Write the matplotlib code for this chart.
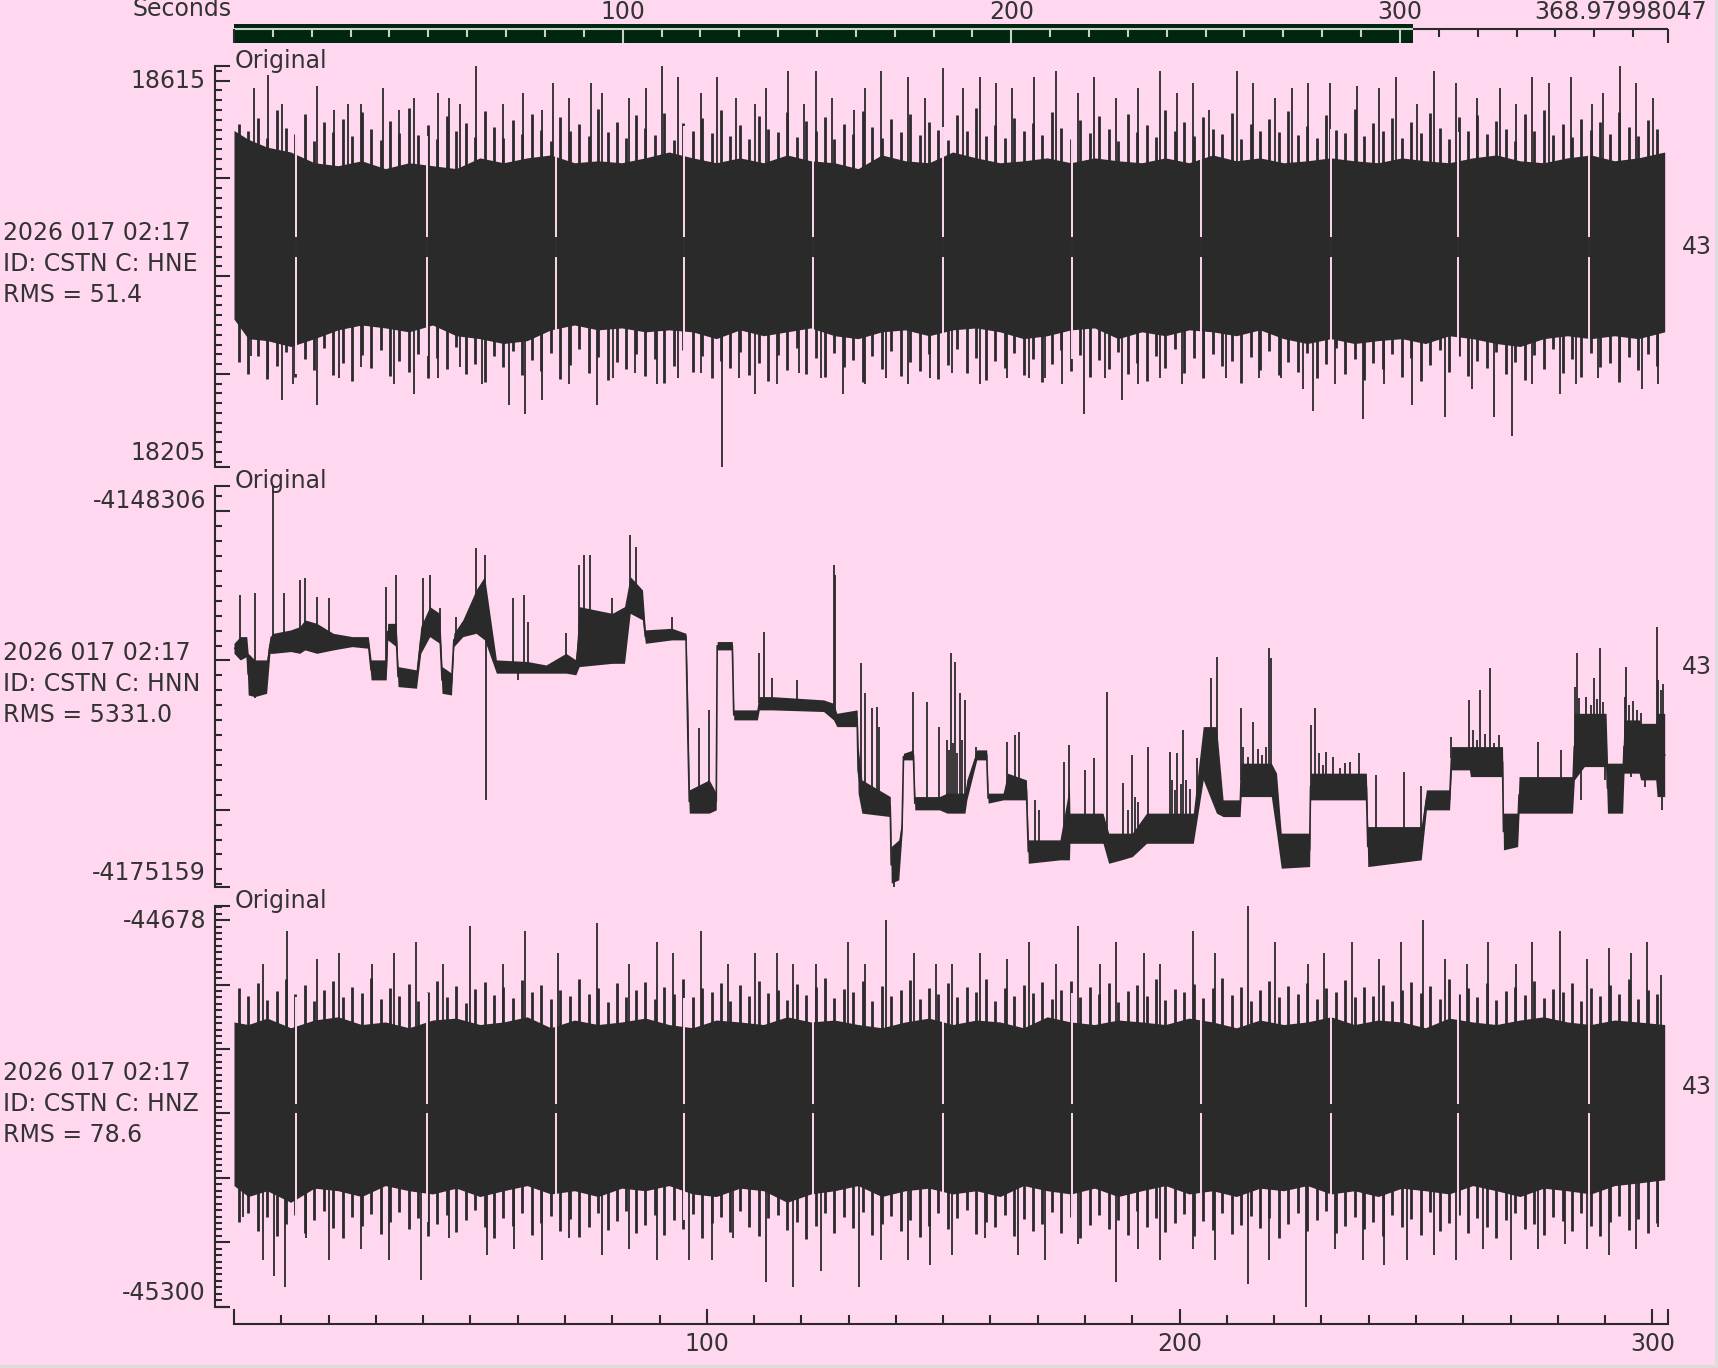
import numpy as np
import matplotlib.pyplot as plt
from matplotlib.patches import Rectangle

W, H = 1718, 1368
BG = "#ffd8f0"
INK = "#2a2a2a"
TXT = "#333333"
GREEN = "#002610"
LIGHT = "#c8d2c8"

plt.rcParams["font.family"] = "DejaVu Sans"
plt.rcParams["font.size"] = 17

# ---------------- data ----------------
window = 303.3          # seconds shown
total = 368.97998047    # full record length
start_label = "2026 017 02:17"
stations = ["ID: CSTN C: HNE", "ID: CSTN C: HNN", "ID: CSTN C: HNZ"]
rms = ["RMS = 51.4", "RMS = 5331.0", "RMS = 78.6"]
right_label = "43"
y_min = [18205, -4175159, -45300]
y_max = [18615, -4148306, -44678]
y_major_step = [100, 10000, 100]
y_minor_step = [10, 1000, 10]

# dropouts seen as thin pink columns in HNE / HNZ
gap_t = [13.1, 40.8, 68.2, 95.2, 122.4, 149.9, 177.3, 204.6, 232.0, 258.8, 286.5]

# envelope knots (seconds) shared by HNE / HNZ
band_t = [0, 3, 7, 12, 17, 22, 27, 32, 37, 42, 47, 52, 57, 62, 67, 72, 77, 82, 87, 92,
          97, 102, 107, 112, 117, 122, 127, 132, 137, 142, 147, 152, 157, 162, 167, 172,
          177, 182, 187, 192, 197, 202, 207, 212, 217, 222, 227, 232, 237, 242, 247, 252,
          257, 262, 267, 272, 277, 282, 287, 292, 297, 302.6]
# dense fringe samples along both edges, one every 2 s from 1 s
fringe_t = [1 + 2 * k for k in range(151)]

# HNE (counts): solid core of the band
hne_top = [18549, 18540, 18532, 18527, 18516, 18513, 18518, 18510, 18516, 18513,
           18510, 18521, 18516, 18521, 18524, 18516, 18518, 18516, 18521, 18527,
           18521, 18516, 18521, 18516, 18524, 18518, 18516, 18510, 18524, 18518,
           18516, 18527, 18521, 18516, 18518, 18521, 18516, 18521, 18518, 18516,
           18521, 18516, 18524, 18518, 18521, 18516, 18518, 18521, 18518, 18516,
           18521, 18518, 18516, 18521, 18524, 18518, 18516, 18521, 18524, 18518,
           18521, 18527]
hne_bot = [18356, 18336, 18334, 18328, 18336, 18345, 18350, 18347, 18343, 18350,
           18339, 18336, 18331, 18334, 18345, 18350, 18345, 18347, 18343, 18345,
           18343, 18336, 18345, 18339, 18343, 18347, 18339, 18336, 18343, 18345,
           18339, 18345, 18347, 18343, 18336, 18339, 18345, 18347, 18336, 18343,
           18339, 18345, 18343, 18339, 18345, 18336, 18331, 18336, 18331, 18334,
           18336, 18331, 18339, 18336, 18331, 18328, 18336, 18339, 18336, 18339,
           18336, 18343]
hne_fringe_top = [
    18556, 18548, 18562, 18541, 18570, 18552, 18545, 18566, 18538, 18558,
    18547, 18561, 18543, 18568, 18551, 18539, 18559, 18546, 18572, 18544,
    18555, 18540, 18564, 18549, 18557, 18542, 18569, 18553, 18541, 18560,
    18545, 18566, 18550, 18538, 18563, 18548, 18556, 18543, 18571, 18547,
    18558, 18541, 18565, 18552, 18544, 18567, 18539, 18557, 18549, 18562,
    18546, 18570, 18543, 18555, 18540, 18564, 18551, 18547, 18568, 18542,
    18559, 18548, 18563, 18540, 18556, 18545, 18569, 18553, 18541, 18561,
    18547, 18566, 18544, 18558, 18550, 18539, 18565, 18548, 18572, 18543,
    18555, 18541, 18562, 18549, 18557, 18544, 18568, 18552, 18540, 18560,
    18546, 18564, 18551, 18538, 18566, 18547, 18555, 18542, 18570, 18549,
    18558, 18543, 18563, 18551, 18545, 18567, 18540, 18556, 18548, 18561,
    18547, 18569, 18544, 18554, 18541, 18565, 18550, 18546, 18571, 18543,
    18557, 18549, 18562, 18541, 18558, 18546, 18567, 18552, 18540, 18563,
    18548, 18565, 18545, 18559, 18551, 18538, 18566, 18549, 18570, 18544,
    18556, 18542, 18561, 18550, 18558, 18545, 18568, 18553, 18543, 18560,
    18551]
hne_fringe_bot = [
    18312, 18300, 18318, 18295, 18308, 18322, 18297, 18315, 18304, 18326,
    18299, 18311, 18293, 18319, 18306, 18324, 18298, 18313, 18302, 18320,
    18296, 18316, 18305, 18327, 18300, 18310, 18292, 18318, 18307, 18323,
    18299, 18314, 18303, 18321, 18295, 18309, 18325, 18301, 18317, 18294,
    18312, 18305, 18320, 18298, 18315, 18291, 18308, 18324, 18302, 18318,
    18296, 18313, 18306, 18322, 18299, 18311, 18293, 18319, 18304, 18326,
    18300, 18316, 18297, 18321, 18307, 18314, 18292, 18318, 18305, 18323,
    18298, 18312, 18303, 18320, 18295, 18309, 18325, 18301, 18316, 18294,
    18313, 18306, 18321, 18299, 18315, 18292, 18310, 18324, 18303, 18319,
    18297, 18314, 18305, 18322, 18300, 18311, 18293, 18318, 18306, 18325,
    18301, 18316, 18296, 18320, 18308, 18313, 18291, 18317, 18304, 18323,
    18299, 18312, 18302, 18321, 18296, 18310, 18326, 18300, 18315, 18294,
    18311, 18305, 18320, 18297, 18316, 18293, 18309, 18324, 18302, 18318,
    18298, 18313, 18306, 18322, 18300, 18312, 18294, 18319, 18305, 18325,
    18301, 18315, 18297, 18321, 18307, 18311, 18292, 18317, 18304, 18320,
    18308]
hne_gap_seg = (18420, 18440)
hne_up = [(4.2, 18593), (7.2, 18606), (10.2, 18576), (17.6, 18595), (21.1, 18570),
          (24.1, 18576), (26.9, 18576), (31.5, 18593), (35.0, 18570), (38.0, 18582),
          (43.1, 18587), (45.4, 18582), (47.7, 18576), (51.2, 18615), (57.0, 18576),
          (61.2, 18587), (65.1, 18570), (67.4, 18598), (70.9, 18582), (75.5, 18598),
          (77.8, 18587), (83.6, 18582), (87.1, 18593), (90.6, 18615), (94.0, 18604),
          (98.7, 18587), (102.1, 18604), (106.1, 18582), (110.2, 18576), (112.6, 18593),
          (117.2, 18610), (120.6, 18576), (123.0, 18610), (126.4, 18582), (131.1, 18570),
          (133.4, 18593), (136.9, 18610), (142.6, 18604), (146.1, 18582), (150.0, 18613),
          (154.2, 18593), (157.7, 18604), (161.2, 18598), (164.6, 18593), (169.3, 18604),
          (173.9, 18610), (178.5, 18587), (182.0, 18604), (186.6, 18582), (191.3, 18593),
          (195.9, 18610), (199.4, 18587), (202.8, 18598), (206.3, 18570), (212.1, 18610),
          (215.6, 18598), (220.2, 18582), (223.7, 18593), (227.1, 18598), (231.8, 18598),
          (237.6, 18595), (242.2, 18593), (245.7, 18604), (250.3, 18576), (253.8, 18610),
          (258.4, 18598), (263.0, 18582), (267.7, 18593), (271.1, 18576), (274.6, 18604),
          (278.1, 18598), (282.7, 18604), (287.3, 18576), (289.6, 18587), (293.1, 18615),
          (296.6, 18598), (300.1, 18582)]
hne_dn = [(3.7, 18318), (7.2, 18301), (10.2, 18273), (12.5, 18290), (17.6, 18268),
          (22.3, 18296), (26.9, 18307), (33.8, 18290), (38.0, 18279), (43.1, 18296),
          (47.7, 18307), (52.4, 18290), (58.1, 18268), (61.6, 18259), (65.1, 18273),
          (70.9, 18290), (76.7, 18268), (80.1, 18296), (84.8, 18301), (89.4, 18290),
          (94.0, 18296), (98.7, 18301), (103.3, 18205), (106.8, 18296), (110.2, 18279),
          (114.9, 18290), (119.5, 18301), (124.1, 18296), (128.8, 18279), (133.4, 18290),
          (138.0, 18296), (142.6, 18290), (147.3, 18296), (151.9, 18301), (157.7, 18290),
          (163.5, 18296), (168.1, 18296), (171.6, 18296), (175.1, 18290), (179.7, 18259),
          (184.3, 18296), (187.8, 18273), (191.3, 18290), (195.9, 18296), (200.5, 18290),
          (205.2, 18296), (209.8, 18296), (216.7, 18296), (221.4, 18296), (226.0, 18284),
          (228.3, 18262), (232.9, 18290), (238.7, 18254), (243.3, 18290), (249.1, 18268),
          (256.1, 18256), (261.9, 18284), (266.5, 18256), (270.4, 18236), (274.6, 18290),
          (280.4, 18279), (283.9, 18290), (288.5, 18296), (293.1, 18301), (297.8, 18284),
          (301.2, 18290)]

# HNN (counts): time knots with upper / lower envelope
hnn_t = [0.0, 1.3, 2.7, 3.0, 4.4, 6.9, 7.6, 8.3, 12.0, 13.9, 15.0, 17.5, 21.0, 25.0, 28.4,
         29.0, 32.2, 32.5, 34.3, 34.7, 38.6, 39.5, 41.4, 43.5, 44.0, 46.0, 46.5, 48.4,
         51.2, 53.0, 55.5, 62.1, 66.0, 70.2, 72.3, 73.0, 80.0, 82.6, 83.8, 86.4, 87.0,
         92.6, 95.6, 96.0, 96.3, 100.5, 102.0, 102.2, 105.4, 105.7, 110.7, 111.1, 113.8,
         124.7, 126.8, 127.5, 131.8, 132.0, 132.8, 138.8, 139.0, 140.6, 141.3, 141.6,
         143.7, 144.0, 149.2, 150.8, 154.6, 155.0, 157.1, 159.2, 159.5, 162.7, 163.6,
         167.6, 168.0, 174.7, 176.7, 176.8, 183.8, 185.0, 187.7, 190.0, 193.0, 196.5,
         197.6, 202.9, 205.0, 207.8, 209.2, 212.8, 213.0, 219.4, 220.5, 221.5, 227.5,
         227.7, 239.5, 239.8, 251.1, 252.2, 257.1, 257.5, 261.3, 261.5, 268.3, 268.5,
         271.5, 271.8, 283.1, 283.5, 285.6, 290.2, 290.5, 293.7, 294.0, 297.2, 297.5,
         300.7, 301.0, 302.6]
hnn_hi = [-4158850, -4158400, -4158400, -4159520, -4159960, -4159960, -4158400, -4158180,
          -4157950, -4157730, -4157280, -4157510, -4158180, -4158400, -4158400, -4159960,
          -4159960, -4157510, -4157510, -4160410, -4160630, -4157730, -4156390, -4156840,
          -4160410, -4160850, -4158180, -4157280, -4155270, -4154380, -4159960, -4160070,
          -4160300, -4159520, -4159960, -4156390, -4156840, -4156390, -4154380, -4155270,
          -4157950, -4157840, -4158180, -4162870, -4168670, -4168000, -4168890, -4158730,
          -4158730, -4163310, -4163310, -4162420, -4162420, -4162640, -4162870, -4163540,
          -4163310, -4165770, -4168000, -4169120, -4172470, -4172020, -4170680, -4166220,
          -4165990, -4169120, -4169120, -4168890, -4168890, -4168000, -4165990, -4165990,
          -4168890, -4168890, -4167550, -4168000, -4172020, -4172020, -4168440, -4170230,
          -4170230, -4171570, -4171570, -4171570, -4170230, -4170230, -4170230, -4170230,
          -4164430, -4164430, -4169340, -4169340, -4166880, -4166880, -4167550, -4171570,
          -4171570, -4167550, -4167550, -4171130, -4171130, -4168670, -4168670, -4165770,
          -4165770, -4165770, -4165770, -4170230, -4170230, -4167780, -4167780, -4163540,
          -4163540, -4163540, -4166880, -4166880, -4163980, -4163980, -4164210, -4164210,
          -4163540, -4163540]
hnn_lo = [-4159520, -4159960, -4159740, -4162310, -4162420, -4162200, -4159520, -4159520,
          -4159400, -4159520, -4159290, -4159520, -4159290, -4159070, -4159180, -4161300,
          -4161300, -4158620, -4159070, -4161750, -4161860, -4159520, -4158400, -4158850,
          -4162200, -4162310, -4159070, -4158400, -4158180, -4158620, -4160850, -4160850,
          -4160850, -4160850, -4160960, -4160410, -4160190, -4160190, -4156840, -4157280,
          -4158850, -4158620, -4158620, -4167550, -4170230, -4170230, -4170010, -4159290,
          -4159290, -4163980, -4163980, -4163310, -4163310, -4163420, -4163980, -4164430,
          -4164430, -4168890, -4170230, -4170460, -4174920, -4174700, -4171570, -4166660,
          -4166660, -4170010, -4170010, -4170230, -4170230, -4169340, -4166660, -4166660,
          -4169560, -4169340, -4169340, -4169340, -4173590, -4173360, -4173360, -4172250,
          -4172250, -4173590, -4173360, -4173140, -4172250, -4172250, -4172250, -4172250,
          -4168000, -4170230, -4170460, -4170460, -4169120, -4169120, -4171570, -4173920,
          -4173810, -4169340, -4169340, -4173810, -4173360, -4170010, -4170010, -4167330,
          -4167330, -4167780, -4167780, -4172690, -4172470, -4170230, -4170230, -4168000,
          -4167110, -4167110, -4170230, -4170230, -4167550, -4167550, -4168000, -4168000,
          -4169120, -4169120]
hnn_up = [(1.3, -4155610), (4.4, -4155500), (8.2, -4148306), (10.5, -4155500), (13.9, -4154600),
          (15.0, -4154490), (17.5, -4155720), (20.0, -4155830), (32.2, -4155050), (34.3, -4154270),
          (40.0, -4154490), (41.4, -4154270), (43.5, -4156500), (47.0, -4157060), (51.2, -4152480),
          (53.0, -4152930), (59.0, -4155830), (61.4, -4155610), (62.1, -4157400), (70.2, -4158180),
          (73.0, -4153600), (74.1, -4152930), (75.2, -4152930), (80.0, -4155830), (83.8, -4151590),
          (85.0, -4152370), (92.6, -4157060), (98.4, -4164540), (100.5, -4163310), (111.1, -4159520),
          (112.1, -4158060), (113.8, -4161190), (119.0, -4161300), (126.8, -4153600), (127.2, -4154270),
          (132.7, -4160190), (133.5, -4162200), (135.0, -4163200), (136.0, -4163090), (136.5, -4164430),
          (143.7, -4162080), (146.5, -4162750), (149.2, -4164430), (151.7, -4159520), (152.5, -4160070),
          (153.5, -4162200), (154.6, -4162640), (157.0, -4165770), (163.6, -4165430), (165.2, -4164990),
          (166.1, -4164760), (169.4, -4169340), (170.2, -4170010), (175.5, -4166770), (176.7, -4165660),
          (180.0, -4167330), (182.0, -4166550), (184.7, -4162080), (188.0, -4168220), (190.0, -4166330),
          (193.3, -4165770), (198.0, -4166100), (199.5, -4166220), (200.7, -4164650), (203.7, -4166550),
          (206.6, -4161190), (208.0, -4159740), (213.0, -4163200), (215.6, -4164090), (218.9, -4159180),
          (219.4, -4159850), (227.7, -4164320), (228.7, -4163200), (231.0, -4166100), (235.0, -4166880),
          (241.6, -4167660), (247.4, -4167440), (251.1, -4168440), (257.5, -4165100), (261.2, -4162640),
          (263.6, -4161970), (265.7, -4160520), (275.7, -4165430), (280.7, -4165990), (284.0, -4159520),
          (287.7, -4161190), (289.0, -4159180), (294.4, -4160410), (297.5, -4163540), (300.9, -4157730),
          (150.9, -4165320), (151.3, -4166000), (152.0, -4165500), (153.0, -4166200), (154.0, -4165320),
          (189.0, -4170000), (190.6, -4169120), (191.2, -4169500), (198.3, -4168000), (199.0, -4168700),
          (200.2, -4168300), (201.3, -4168000), (202.3, -4168600), (213.5, -4165770), (214.5, -4166500),
          (216.5, -4165900), (217.5, -4166300), (218.3, -4165800), (229.5, -4166220), (230.3, -4167000),
          (232.5, -4166500), (234.0, -4167200), (236.0, -4166800), (238.0, -4166220), (262.0, -4164650),
          (263.0, -4165300), (264.5, -4164900), (266.5, -4165500), (267.5, -4165000), (283.6, -4161750),
          (284.5, -4162500), (286.0, -4162420), (287.0, -4163000), (288.3, -4162600), (289.5, -4162800),
          (294.2, -4162420), (295.0, -4163000), (296.0, -4162700), (296.8, -4163300), (301.2, -4161300),
          (301.8, -4162000), (302.3, -4161600)]
hnn_dn = [(4.4, -4162530), (53.3, -4169340), (60.0, -4161300), (139.5, -4175159),
          (284.8, -4169340), (290.0, -4168000), (295.5, -4167780), (298.5, -4168500), (302.0, -4170010)]

# HNZ (counts): solid core of the band
hnz_top = [-44858, -44862, -44852, -44867, -44855, -44850, -44862, -44858, -44867, -44855,
           -44852, -44862, -44858, -44850, -44867, -44855, -44862, -44858, -44852, -44862,
           -44867, -44855, -44858, -44862, -44850, -44858, -44855, -44862, -44867, -44858,
           -44852, -44862, -44855, -44858, -44867, -44850, -44858, -44862, -44855, -44858,
           -44862, -44852, -44858, -44867, -44855, -44862, -44858, -44850, -44862, -44855,
           -44858, -44867, -44852, -44858, -44862, -44855, -44850, -44858, -44862, -44855,
           -44858, -44862]
hnz_bot = [-45112, -45129, -45120, -45138, -45116, -45120, -45129, -45112, -45120, -45125,
           -45116, -45129, -45120, -45112, -45125, -45120, -45129, -45116, -45120, -45112,
           -45125, -45129, -45116, -45120, -45138, -45125, -45120, -45112, -45129, -45120,
           -45116, -45125, -45120, -45129, -45112, -45120, -45125, -45116, -45129, -45120,
           -45112, -45125, -45120, -45129, -45116, -45120, -45112, -45125, -45120, -45129,
           -45116, -45120, -45125, -45112, -45120, -45129, -45116, -45120, -45125, -45112,
           -45108, -45103]
hnz_fringe_top = [
    -44805, -44818, -44797, -44824, -44810, -44792, -44815, -44801, -44826, -44808,
    -44795, -44820, -44803, -44813, -44790, -44822, -44806, -44817, -44799, -44825,
    -44811, -44794, -44819, -44802, -44828, -44807, -44796, -44816, -44804, -44821,
    -44793, -44812, -44800, -44823, -44809, -44818, -44791, -44814, -44805, -44827,
    -44798, -44819, -44808, -44796, -44822, -44803, -44815, -44792, -44820, -44806,
    -44811, -44797, -44825, -44801, -44817, -44794, -44813, -44808, -44824, -44799,
    -44816, -44804, -44790, -44821, -44807, -44812, -44795, -44826, -44802, -44818,
    -44809, -44793, -44823, -44805, -44814, -44798, -44820, -44803, -44811, -44791,
    -44825, -44806, -44817, -44800, -44813, -44796, -44822, -44808, -44794, -44819,
    -44804, -44815, -44797, -44827, -44810, -44801, -44818, -44792, -44824, -44807,
    -44812, -44799, -44821, -44805, -44790, -44816, -44803, -44826, -44809, -44795,
    -44819, -44802, -44814, -44798, -44823, -44806, -44811, -44793, -44820, -44804,
    -44817, -44800, -44825, -44808, -44796, -44813, -44802, -44822, -44791, -44815,
    -44806, -44819, -44797, -44824, -44810, -44803, -44816, -44794, -44821, -44807,
    -44812, -44798, -44826, -44805, -44818, -44800, -44814, -44792, -44823, -44809,
    -44815]
hnz_fringe_bot = [
    -45168, -45155, -45182, -45160, -45190, -45172, -45158, -45185, -45165, -45152,
    -45178, -45193, -45161, -45175, -45156, -45187, -45169, -45153, -45180, -45163,
    -45191, -45171, -45157, -45184, -45166, -45150, -45177, -45194, -45162, -45174,
    -45155, -45188, -45170, -45159, -45183, -45164, -45192, -45176, -45154, -45181,
    -45167, -45151, -45186, -45173, -45158, -45189, -45165, -45179, -45156, -45193,
    -45170, -45160, -45184, -45152, -45176, -45190, -45163, -45157, -45181, -45168,
    -45195, -45174, -45154, -45186, -45161, -45178, -45153, -45189, -45171, -45159,
    -45183, -45166, -45192, -45175, -45155, -45180, -45162, -45150, -45187, -45169,
    -45177, -45157, -45191, -45164, -45182, -45172, -45153, -45185, -45160, -45194,
    -45173, -45158, -45179, -45165, -45188, -45151, -45176, -45162, -45184, -45170,
    -45156, -45190, -45167, -45181, -45154, -45187, -45173, -45159, -45178, -45163,
    -45193, -45171, -45155, -45183, -45166, -45152, -45186, -45174, -45160, -45180,
    -45168, -45191, -45157, -45177, -45164, -45188, -45153, -45182, -45170, -45158,
    -45185, -45162, -45176, -45194, -45165, -45155, -45179, -45172, -45189, -45161,
    -45167, -45183, -45154, -45175, -45190, -45168, -45159, -45181, -45164, -45186,
    -45170]
hnz_gap_seg = (-45000, -44985)
hnz_up = [(6.1, -44768), (11.2, -44717), (17.6, -44760), (22.3, -44751), (29.2, -44768),
          (33.8, -44751), (38.5, -44734), (44.3, -44768), (50.0, -44709), (57.0, -44768),
          (61.6, -44717), (68.6, -44751), (76.7, -44704), (83.6, -44768), (89.4, -44734),
          (92.9, -44751), (98.7, -44717), (104.4, -44768), (110.2, -44751), (114.9, -44751),
          (118.3, -44768), (123.0, -44768), (129.9, -44734), (133.4, -44768), (138.0, -44700),
          (143.8, -44751), (148.4, -44768), (151.9, -44768), (157.7, -44751), (163.5, -44760),
          (168.1, -44734), (173.9, -44768), (178.5, -44709), (183.2, -44768), (186.6, -44734),
          (192.4, -44751), (195.9, -44768), (202.8, -44717), (207.5, -44751), (214.4, -44678),
          (220.2, -44734), (227.1, -44768), (230.6, -44751), (236.4, -44734), (242.2, -44760),
          (246.8, -44734), (251.5, -44700), (256.1, -44760), (260.7, -44768), (265.3, -44734),
          (271.1, -44768), (274.6, -44734), (280.4, -44717), (286.2, -44760), (290.8, -44743),
          (295.4, -44751), (298.9, -44734), (301.9, -44785)]
hnz_dn = [(1.9, -45160), (6.1, -45228), (8.4, -45253), (10.7, -45270), (15.3, -45194),
          (20.0, -45228), (26.9, -45211), (32.7, -45228), (39.6, -45258), (45.4, -45194),
          (53.5, -45219), (59.3, -45211), (65.1, -45228), (70.9, -45194), (77.8, -45219),
          (83.6, -45211), (89.4, -45228), (96.3, -45228), (101.0, -45228), (105.6, -45194),
          (112.6, -45262), (118.3, -45270), (124.1, -45245), (132.2, -45270), (136.9, -45228),
          (142.6, -45228), (147.3, -45236), (151.9, -45219), (158.9, -45194), (165.8, -45219),
          (171.6, -45228), (178.5, -45202), (186.6, -45262), (191.3, -45211), (195.9, -45228),
          (202.8, -45211), (207.5, -45228), (214.4, -45265), (219.0, -45228), (226.7, -45300),
          (232.9, -45211), (238.7, -45228), (243.3, -45236), (248.0, -45228), (253.8, -45219),
          (258.4, -45228), (264.2, -45211), (270.0, -45228), (275.8, -45211), (281.5, -45202),
          (286.2, -45211), (290.8, -45219), (296.6, -45211), (301.2, -45177)]


# ---------------- drawing ----------------
fig = plt.figure(figsize=(W / 100, H / 100), dpi=100, facecolor=BG)

panel_tops = [66, 486, 906]
panel_h = 400.7


def px(v):  # pixels -> points
    return v * 72 / 100


def needles(ax, t_pts, v_pts, t, mid, lw=1.3):
    t_pts = np.asarray(t_pts, dtype=float)
    base = np.interp(t_pts, t, mid)
    ax.vlines(t_pts, base, v_pts, color=INK, lw=lw)


def make_panel(i):
    top = panel_tops[i]
    ax = fig.add_axes([234 / W, 1 - (top + panel_h) / H, 1434 / W, panel_h / H])
    ax.set_facecolor("none")
    ax.set_xlim(0, window)
    ax.set_ylim(y_min[i], y_max[i])
    for s in ["top", "right", "bottom"]:
        ax.spines[s].set_visible(False)
    sp = ax.spines["left"]
    sp.set_position(("outward", px(19)))
    sp.set_linewidth(1.5)
    sp.set_color(INK)
    lo, hi = y_min[i], y_max[i]
    st = y_major_step[i]
    maj = [lo] + list(np.arange(np.ceil(lo / st) * st, hi, st)) + [hi]
    ms = y_minor_step[i]
    mnr = np.arange(np.ceil(lo / ms) * ms, hi, ms)
    ax.set_yticks(maj)
    ax.set_yticks(mnr, minor=True)
    ax.set_yticklabels([])
    ax.tick_params(axis="y", which="major", direction="in", length=px(15), width=1.5, color=INK)
    ax.tick_params(axis="y", which="minor", direction="in", length=px(7), width=1.5, color=INK)
    ax.set_xticks([])

    fig.text(206 / W, 1 - (top + 21.5) / H, str(hi), ha="right", va="baseline", color=TXT)
    fig.text(206 / W, 1 - (top + panel_h - 7) / H, str(lo), ha="right", va="baseline", color=TXT)
    fig.text(235 / W, 1 - (top + 2.3) / H, "Original", ha="left", va="baseline", color=TXT)
    for k, s in enumerate([start_label, stations[i], rms[i]]):
        fig.text(3 / W, 1 - (top + 173.6 + 31 * k) / H, s, ha="left", va="baseline", color=TXT)
    fig.text(1682 / W, 1 - (top + 187.5) / H, right_label, ha="left", va="baseline", color=TXT)
    return ax


def band(ax, top, bot, ftop, fbot, up, dn, seg, margin):
    t = np.asarray(band_t)
    top = np.asarray(top)
    bot = np.asarray(bot)
    mid = (top + bot) / 2
    ax.fill_between(t, bot, top, color=INK, lw=0)
    needles(ax, fringe_t, ftop, t, mid, lw=2.0)
    needles(ax, fringe_t, fbot, t, mid, lw=2.0)
    up = np.asarray(up)
    dn = np.asarray(dn)
    needles(ax, up[:, 0], up[:, 1], t, mid)
    needles(ax, dn[:, 0], dn[:, 1], t, mid)
    g = np.asarray(gap_t)
    ax.vlines(g, np.interp(g, t, bot) - margin, np.interp(g, t, top) + margin, color=BG, lw=1.4)
    ax.vlines(g, seg[0], seg[1], color=INK, lw=1.4)


ax1 = make_panel(0)
band(ax1, hne_top, hne_bot, hne_fringe_top, hne_fringe_bot, hne_up, hne_dn, hne_gap_seg, 30)

ax2 = make_panel(1)
tn = np.asarray(hnn_t)
hi_n = np.asarray(hnn_hi)
lo_n = np.asarray(hnn_lo)
mid_n = (hi_n + lo_n) / 2
ax2.fill_between(tn, lo_n, hi_n, color=INK, lw=0)
ax2.plot(tn, mid_n, color=INK, lw=1.2)
up_n = np.asarray(hnn_up)
dn_n = np.asarray(hnn_dn)
needles(ax2, up_n[:, 0], up_n[:, 1], tn, mid_n)
needles(ax2, dn_n[:, 0], dn_n[:, 1], tn, mid_n)

ax3 = make_panel(2)
band(ax3, hnz_top, hnz_bot, hnz_fringe_top, hnz_fringe_bot, hnz_up, hnz_dn, hnz_gap_seg, 45)

# bottom time axis
ax3.spines["bottom"].set_visible(True)
ax3.spines["bottom"].set_position(("outward", px(17)))
ax3.spines["bottom"].set_linewidth(1.5)
ax3.spines["bottom"].set_color(INK)
ax3.set_xticks([0, 100, 200, 300, window])
ax3.set_xticklabels(["", "100", "200", "300", ""])
ax3.set_xticks(np.arange(10, 300, 10), minor=True)
ax3.tick_params(axis="x", which="major", direction="in", length=px(14.6), width=1.5,
                color=INK, pad=6, labelcolor=TXT, labelsize=17)
ax3.tick_params(axis="x", which="minor", direction="in", length=px(8.6), width=1.5, color=INK)

# top "Seconds" scale
axs = fig.add_axes([234 / W, 1 - 43 / H, 1434 / W, 14 / H])
axs.set_xlim(0, total)
axs.set_ylim(0, 1)
axs.axis("off")
axs.add_patch(Rectangle((0, 0), window, 19 / 14, color=GREEN, lw=0, clip_on=False))
axs.hlines(1, 0, window, color=LIGHT, lw=1.5, clip_on=False)
axs.hlines(1, window, total, color=INK, lw=1.5, clip_on=False)
minor_s = np.arange(10, 370, 10)
major_s = [0, 100, 200, 300, total]
for p in minor_s:
    if p in (100, 200, 300):
        continue
    axs.vlines(p, 1 - 8 / 14, 1, color=LIGHT if p < window else INK, lw=1.5, clip_on=False)
for p in major_s:
    axs.vlines(p, 0, 1, color=LIGHT if 0 < p < window else INK, lw=1.5, clip_on=False)
for p in [100, 200, 300]:
    axs.text(p, 1 + 9.7 / 14, str(p), ha="center", va="baseline", color=TXT)
fig.text(1707 / W, 1 - 19.3 / H, f"{total:.8f}", ha="right", va="baseline", color=TXT)
fig.text(232 / W, 1 - 16 / H, "Seconds", ha="right", va="baseline", color=TXT)

# window frame edges
fig.add_artist(Rectangle((1 - 3 / W, 0), 3 / W, 1, transform=fig.transFigure, color="#dcdcdc", lw=0))
fig.add_artist(Rectangle((0, 0), 1, 3 / H, transform=fig.transFigure, color="#dcdcdc", lw=0))

fig.savefig("out.png", dpi=100, facecolor=BG)
